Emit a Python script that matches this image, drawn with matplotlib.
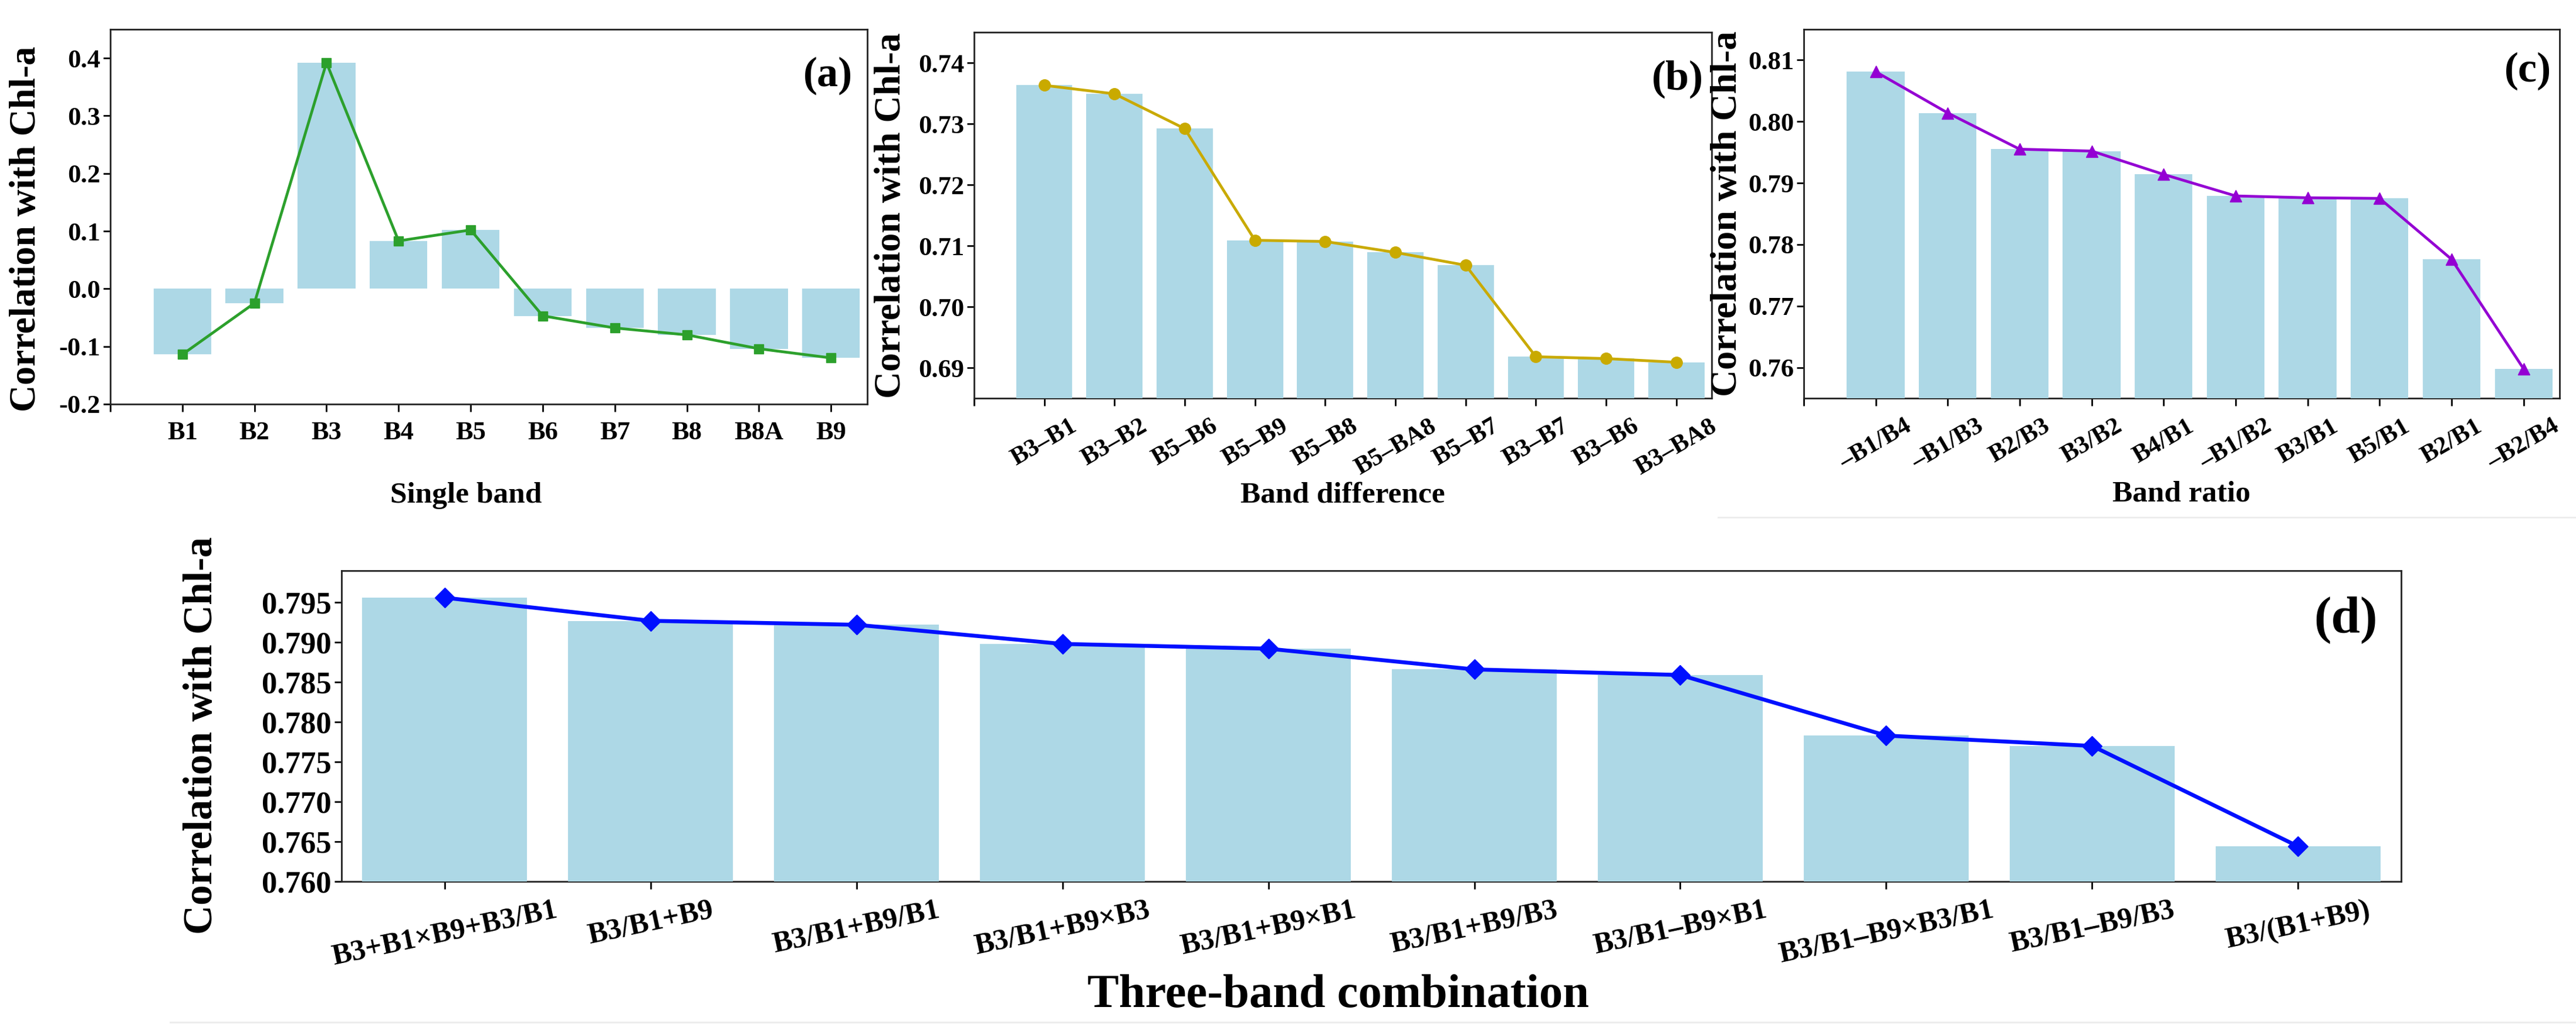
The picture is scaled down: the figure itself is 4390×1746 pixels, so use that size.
import numpy as np
import matplotlib
matplotlib.use('Agg')
import matplotlib.pyplot as plt
from matplotlib.ticker import MultipleLocator, FormatStrFormatter
from matplotlib.lines import Line2D

plt.rcParams['font.family'] = ['Liberation Serif', 'DejaVu Serif']
plt.rcParams['font.weight'] = 'bold'
plt.rcParams['axes.labelweight'] = 'bold'
plt.rcParams['axes.unicode_minus'] = True

# data
single_bands = ['B1', 'B2', 'B3', 'B4', 'B5', 'B6', 'B7', 'B8', 'B8A', 'B9']
single_corr = [-0.114, -0.025, 0.392, 0.083, 0.102, -0.047, -0.068, -0.080, -0.104, -0.120]

diff_bands = ['B3–B1', 'B3–B2', 'B5–B6', 'B5–B9', 'B5–B8', 'B5–BA8', 'B5–B7', 'B3–B7', 'B3–B6', 'B3–BA8']
diff_corr = [0.7363, 0.7349, 0.7292, 0.7109, 0.7107, 0.7089, 0.7068, 0.6918, 0.6915, 0.6909]

ratio_bands = ['–B1/B4', '–B1/B3', 'B2/B3', 'B3/B2', 'B4/B1', '–B1/B2', 'B3/B1', 'B5/B1', 'B2/B1', '–B2/B4']
ratio_corr = [0.8081, 0.8014, 0.7955, 0.7952, 0.7914, 0.7879, 0.7876, 0.7875, 0.7776, 0.7598]

combo_bands = ['B3+B1×B9+B3/B1', 'B3/B1+B9', 'B3/B1+B9/B1', 'B3/B1+B9×B3', 'B3/B1+B9×B1',
               'B3/B1+B9/B3', 'B3/B1–B9×B1', 'B3/B1–B9×B3/B1', 'B3/B1–B9/B3', 'B3/(B1+B9)']
combo_corr = [0.7956, 0.7927, 0.7922, 0.7898, 0.7892, 0.7866, 0.7859, 0.7783, 0.7770, 0.7644]

bar_color = '#add8e6'
ylab = 'Correlation with Chl-a'

fig = plt.figure(figsize=(43.9, 17.46), dpi=100)


def style_axes(ax):
    for s in ax.spines.values():
        s.set_linewidth(2.0)
        s.set_color('#222222')
        s.set_zorder(2.5)
    ax.tick_params(axis='both', direction='out', length=9, width=2, colors='black')


def top_panel(rect, labels, values, color, marker, ms, ylim, ystep, yfmt,
              tag, tag_xy, xlabel, xlab_xy, ylab_xy, rot):
    ax = fig.add_axes(rect)
    x = np.arange(len(labels))
    ax.bar(x, values, width=0.8, color=bar_color, zorder=3)
    ax.plot(x, values, color=color, lw=3.4, marker=marker, ms=ms, zorder=4)
    ax.set_xlim(-1, len(labels) - 0.5)
    ax.set_ylim(*ylim)
    ax.set_xticks([-1] + list(x))
    if rot:
        ax.set_xticklabels([''] + labels, fontsize=31, rotation=rot, ha='center')
    else:
        ax.set_xticklabels([''] + labels, fontsize=32)
    ax.yaxis.set_major_locator(MultipleLocator(ystep))
    ax.yaxis.set_major_formatter(FormatStrFormatter(yfmt))
    for t in ax.get_yticklabels():
        t.set_fontsize(32)
    style_axes(ax)
    ax.tick_params(axis='x', pad=12)
    ax.tick_params(axis='y', pad=3)
    ax.set_ylabel(ylab, fontsize=46)
    ax.yaxis.set_label_coords(*ylab_xy)
    ax.set_xlabel(xlabel, fontsize=37)
    ax.xaxis.set_label_coords(*xlab_xy)
    ax.xaxis.label.set_va('top')
    ax.text(tag_xy[0], tag_xy[1], tag, transform=ax.transAxes, ha='right', va='center', fontsize=52)
    return ax


top_panel([0.0428, 0.6054, 0.2938, 0.366], single_bands, single_corr, '#2ca02c', 's', 11,
          (-0.2, 0.45), 0.1, '%.1f', '(a)', (0.981, 0.876),
          'Single band', (0.47, -0.208), (-0.088, 0.468), 0)

top_panel([0.3781, 0.6111, 0.2863, 0.3574], diff_bands, diff_corr, '#c9aa00', 'o', 14,
          (0.685, 0.745), 0.01, '%.2f', '(b)', (0.989, 0.872),
          'Band difference', (0.5, -0.229), (-0.089, 0.5), 30)

top_panel([0.7002, 0.6111, 0.2934, 0.3603], ratio_bands, ratio_corr, '#9400d3', '^', 15,
          (0.755, 0.815), 0.01, '%.2f', '(c)', (0.989, 0.887),
          'Band ratio', (0.5, -0.223), (-0.078, 0.5), 30)

# panel (d)
ax = fig.add_axes([0.1326, 0.1392, 0.7995, 0.3036])
x = np.arange(len(combo_bands))
ax.bar(x, combo_corr, width=0.8, color=bar_color, zorder=3)
ax.plot(x, combo_corr, color='#0010ff', lw=4.8, marker='D', ms=17, zorder=4)
ax.set_xlim(-0.5, len(combo_bands) - 0.5)
ax.set_ylim(0.760, 0.799)
ax.set_xticks(x)
ax.set_xticklabels(combo_bands, fontsize=36, rotation=12, ha='center')
ax.yaxis.set_major_locator(MultipleLocator(0.005))
ax.yaxis.set_major_formatter(FormatStrFormatter('%.3f'))
for t in ax.get_yticklabels():
    t.set_fontsize(38)
style_axes(ax)
ax.tick_params(axis='x', pad=10)
ax.set_ylabel(ylab, fontsize=50)
ax.yaxis.set_label_coords(-0.0587, 0.47)
ax.set_xlabel('Three-band combination', fontsize=58)
ax.xaxis.set_label_coords(0.484, -0.298)
ax.xaxis.label.set_va('top')
ax.text(0.9886, 0.843, '(d)', transform=ax.transAxes, ha='right', va='center', fontsize=64)

# faint separator lines left over from the panel layout
fig.add_artist(Line2D([0.667, 1.0], [0.4948, 0.4948], color='#ececec', lw=2))
fig.add_artist(Line2D([0.066, 1.0], [0.002, 0.002], color='#ececec', lw=2))

fig.savefig('out.png', dpi=100, facecolor='white')
